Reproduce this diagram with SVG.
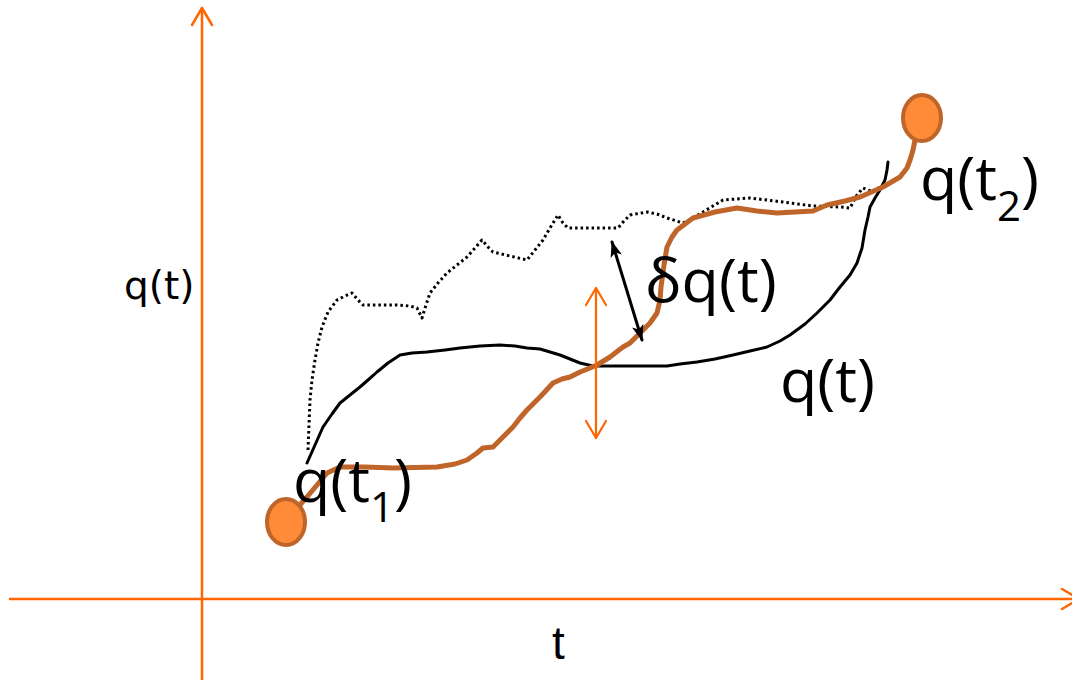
<svg xmlns="http://www.w3.org/2000/svg" width="1072" height="680" viewBox="0 0 1072 680">
<defs>
<style>
.axis{stroke:#FF6600;stroke-width:2.5;fill:none;stroke-linecap:round;stroke-linejoin:round}
.oarrow{stroke:#FF6600;stroke-width:2.2;fill:none;stroke-linecap:round;stroke-linejoin:round}
.path{fill:none;stroke:#C0652A;stroke-width:5;stroke-linejoin:round;stroke-linecap:round}
.var{fill:none;stroke:#000;stroke-width:3;stroke-linejoin:round;stroke-linecap:round}
.dot{fill:none;stroke:#000;stroke-width:3;stroke-dasharray:2.5 3;stroke-linejoin:round}
.node{fill:#FF8A38;stroke:#C0652A;stroke-width:4}
.lbl{font-family:"Open Sans","DejaVu Sans",sans-serif;font-size:61px;fill:#000}
.sub{font-size:42px}
.ax{font-family:"DejaVu Sans",sans-serif;font-size:39px;fill:#000}
.axt{font-family:"Liberation Sans",Arial,sans-serif;font-size:46px;fill:#000}
</style>
<marker id="ah" viewBox="0 0 16 12" refX="15" refY="6" markerWidth="16" markerHeight="12" markerUnits="userSpaceOnUse" orient="auto-start-reverse">
<path d="M0,0 L16,6 L0,12 L4,6 Z" fill="#000"/>
</marker>
</defs>
<rect width="1072" height="680" fill="#fff"/>
<g id="axes">
<line class="axis" x1="202" y1="680" x2="202" y2="8"/>
<polyline class="axis" points="192,25 202,8 212,25"/>
<line class="axis" x1="10" y1="599" x2="1078" y2="599"/>
<polyline class="axis" points="1062,589 1079,599 1062,609"/>
</g>
<g id="connectors">
<path id="varied-dotted" class="dot" d="M308,450 L309,425 L310,400 L312,380 L315,360 L318,343 L322,327 L328,312 L337,300 L345,296 L352,293 L358,300 L363,305 L380,305 L397,305 L410,306 L417,308 L422,318 L426,305 L430,293 L438,283 L447,273 L457,265 L467,257 L475,248 L482,240 L488,247 L493,252 L510,256 L527,260 L535,250 L543,240 L550,228 L558,215 L563,223 L568,228 L590,228 L618,228 L624,221 L630,215 L647,212 L657,214 L667,218 L683,223 L693,218 L703,212 L723,200 L750,198 L783,202 L813,206 L840,207 L850,208 L857,195 L863,188 L873,192 L883,185"/>
<path id="varied-solid" class="var" d="M307,463 L315,445 L323,427 L332,414 L340,403 L350,395 L360,387 L368,380 L377,372 L388,363 L400,355 L412,353 L427,352 L445,350 L460,348 L480,346 L500,345 L515,346 L527,348 L540,349 L550,352 L560,355 L570,359 L580,363 L593,366 L630,366 L667,366 L680,364 L697,362 L715,359 L733,355 L750,351 L767,347 L780,341 L790,335 L805,324 L817,313 L830,300 L840,287 L850,275 L857,263 L862,248 L865,230 L868,217 L870,207 L875,198 L880,190 L885,180 L887,170 L888,162"/>
<path id="true-path" class="path" d="M287,520 L297,508 L307,497 L317,485 L327,473 L340,467 L365,467 L393,468 L437,467 L455,464 L467,460 L477,453 L483,448 L493,447 L503,437 L513,427 L520,418 L527,410 L540,397 L553,383 L562,379 L570,377 L580,372 L590,368 L597,365 L610,357 L623,347 L630,343 L640,333 L650,323 L657,313 L660,300 L661,287 L664,265 L667,247 L672,237 L677,230 L693,218 L715,212 L737,208 L757,211 L777,213 L795,212 L813,211 L827,205 L845,201 L860,197 L883,187 L900,177 L907,168 L910,160 L913,150 L915,140"/>
<line id="delta-arrow" class="var" x1="612" y1="242" x2="642" y2="340" marker-start="url(#ah)" marker-end="url(#ah)"/>
<g id="variation-arrow">
<line class="oarrow" x1="596" y1="288" x2="596" y2="438"/>
<polyline class="oarrow" points="586,305 596,288 606,305"/>
<polyline class="oarrow" points="586,421 596,438 606,421"/>
</g>
</g>
<g id="start-node">
<ellipse class="node" cx="286" cy="522" rx="19" ry="23"/>
</g>
<g id="end-node">
<ellipse class="node" cx="922" cy="118" rx="19" ry="23"/>
</g>
<g id="labels">
<text class="ax" x="124" y="299">q(t)</text>
<text class="axt" x="552" y="659">t</text>
<text class="lbl" x="293" y="502">q(t<tspan class="sub" dy="20">1</tspan><tspan dy="-20">)</tspan></text>
<text class="lbl" x="920" y="200">q(t<tspan class="sub" dy="21">2</tspan><tspan dy="-21">)</tspan></text>
<text class="lbl" x="645" y="302">δq(t)</text>
<text class="lbl" x="780" y="402">q(t)</text>
</g>
</svg>
